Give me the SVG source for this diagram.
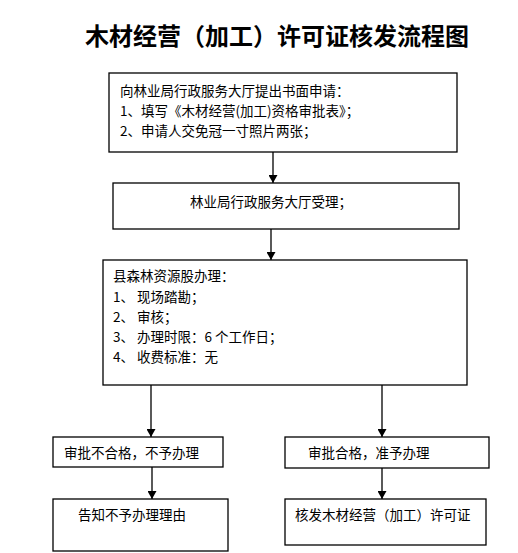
<svg xmlns="http://www.w3.org/2000/svg" width="518" height="553" viewBox="0 0 518 553">
<style>
.box{fill:#fff;stroke:#000;stroke-width:1.3}
.t{font-family:"Noto Sans CJK SC","Liberation Sans",sans-serif;font-size:13.5px;fill:#000}
.title{font-family:"Noto Sans CJK SC","Liberation Sans",sans-serif;font-size:24px;font-weight:bold;fill:#000}
.c{stroke:#000;stroke-width:1.3;fill:none}
</style>
<defs>
<marker id="ah" markerWidth="8" markerHeight="9" refX="8" refY="4.5" orient="auto" markerUnits="userSpaceOnUse">
<path d="M0,0 L8,4.5 L0,9 z" fill="#000"/>
</marker>
</defs>
<rect width="518" height="553" fill="#fff"/>
<text class="title" x="277" y="45" text-anchor="middle">木材经营（加工）许可证核发流程图</text>
<g id="connectors">
<line class="c" x1="273" y1="152" x2="273" y2="183" marker-end="url(#ah)"/>
<line class="c" x1="271" y1="229" x2="271" y2="260" marker-end="url(#ah)"/>
<line class="c" x1="151" y1="385" x2="151" y2="437" marker-end="url(#ah)"/>
<line class="c" x1="382" y1="385" x2="382" y2="437" marker-end="url(#ah)"/>
<line class="c" x1="152" y1="467" x2="152" y2="499" marker-end="url(#ah)"/>
<line class="c" x1="382" y1="468" x2="382" y2="499" marker-end="url(#ah)"/>
</g>
<g id="n1">
<rect class="box" x="109" y="73" width="348" height="79"/>
<text class="t" x="120" y="96">向林业局行政服务大厅提出书面申请：</text>
<text class="t" x="120" y="116">1、填写《木材经营(加工)资格审批表》；</text>
<text class="t" x="120" y="136">2、申请人交免冠一寸照片两张；</text>
</g>
<g id="n2">
<rect class="box" x="113" y="183" width="346" height="46"/>
<text class="t" x="271" y="207" text-anchor="middle">林业局行政服务大厅受理；</text>
</g>
<g id="n3">
<rect class="box" x="103" y="260" width="364" height="125"/>
<text class="t" x="113" y="281">县森林资源股办理：</text>
<text class="t" x="113" y="302">1、 现场踏勘；</text>
<text class="t" x="113" y="322">2、 审核；</text>
<text class="t" x="113" y="342">3、 办理时限：6 个工作日；</text>
<text class="t" x="113" y="362">4、 收费标准：无</text>
</g>
<g id="n4">
<rect class="box" x="53" y="437" width="170" height="30"/>
<text class="t" x="64" y="458">审批不合格，不予办理</text>
</g>
<g id="n5">
<rect class="box" x="285" y="437" width="204" height="31"/>
<text class="t" x="308" y="458">审批合格，准予办理</text>
</g>
<g id="n6">
<rect class="box" x="53" y="499" width="175" height="52"/>
<text class="t" x="78" y="520">告知不予办理理由</text>
</g>
<g id="n7">
<rect class="box" x="285" y="499" width="201" height="46"/>
<text class="t" x="295" y="520">核发木材经营（加工）许可证</text>
</g>
</svg>
